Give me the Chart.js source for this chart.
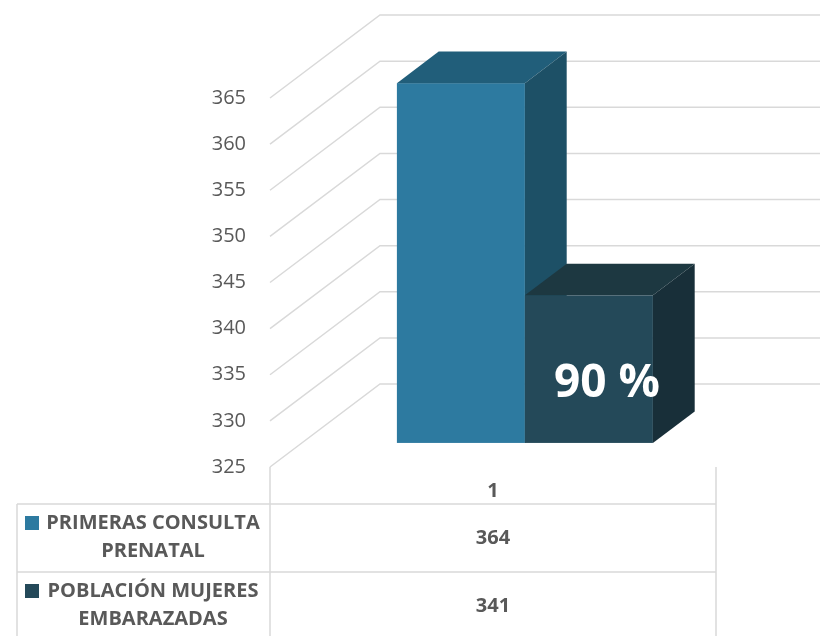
<!DOCTYPE html>
<html>
<head>
<meta charset="utf-8">
<script src="https://cdn.jsdelivr.net/npm/chart.js@4"></script>
<style>
  html, body { margin: 0; padding: 0; background: #fff; }
</style>
</head>
<body>
<canvas id="chart" width="820" height="636"></canvas>
<script>
// data
const categories = ['1'];
const seriesNames = [['PRIMERAS CONSULTA', 'PRENATAL'], ['POBLACIÓN MUJERES', 'EMBARAZADAS']];
const primerasConsulta = [364];
const poblacionMujeres = [341];
const yMin = 325, yMax = 365, yStep = 5;
const percentLabel = '90 %';

// look
const frontColors = ['#2d7aa0', '#244959'];
const topColors = ['#215e7a', '#1d3841'];
const sideColors = ['#1d5066', '#182f39'];
const GRID = '#d9d9d9';
const TEXT = '#595959';
const FONT = '"Open Sans", "DejaVu Sans", sans-serif';
const WALL = { dx: 110, dy: -83 };       // depth of the back wall
const BAR_FRONT = 0.29, BAR_BACK = 0.67; // bar depth as part of the wall depth
const TABLE = { left: 17, headH: 37, rowH: 68, textMid: 153 };

function poly(ctx, pts, color) {
    ctx.fillStyle = color;
    ctx.beginPath();
    ctx.moveTo(pts[0][0], pts[0][1]);
    pts.slice(1).forEach(p => ctx.lineTo(p[0], p[1]));
    ctx.closePath();
    ctx.fill();
}

function line(ctx, x1, y1, x2, y2) {
    ctx.beginPath();
    ctx.moveTo(x1, y1);
    ctx.lineTo(x2, y2);
    ctx.stroke();
}

const box3d = {
    id: 'box3d',
    beforeDatasetsDraw(chart) {
        const { ctx, chartArea: a } = chart;
        const y = chart.scales.y;
        ctx.save();

        // walls: diagonal on the side, flat on the back
        ctx.strokeStyle = GRID;
        ctx.lineWidth = 1.5;
        y.ticks.forEach(t => {
            const py = y.getPixelForValue(t.value);
            ctx.beginPath();
            ctx.moveTo(a.left, py);
            ctx.lineTo(a.left + WALL.dx, py + WALL.dy);
            ctx.lineTo(chart.width, py + WALL.dy);
            ctx.stroke();
        });

        // bars as boxes standing on the floor (axis minimum)
        const floor = y.getPixelForValue(yMin);
        const fx = WALL.dx * BAR_FRONT, fy = WALL.dy * BAR_FRONT;
        const bx = WALL.dx * BAR_BACK, by = WALL.dy * BAR_BACK;
        chart.data.datasets.forEach((ds, i) => {
            chart.getDatasetMeta(i).data.forEach(bar => {
                const l = bar.x - bar.width / 2, r = bar.x + bar.width / 2;
                const t = bar.y, b = Math.min(bar.base, floor);
                ctx.fillStyle = frontColors[i];
                ctx.fillRect(l + fx, t + fy, r - l, b - t);
                poly(ctx, [[l + fx, t + fy], [r + fx, t + fy], [r + bx, t + by], [l + bx, t + by]], topColors[i]);
                poly(ctx, [[r + fx, t + fy], [r + bx, t + by], [r + bx, b + by], [r + fx, b + fy]], sideColors[i]);
                if (i === 1) {
                    ctx.fillStyle = '#ffffff';
                    ctx.font = 'bold 46px ' + FONT;
                    ctx.textAlign = 'center';
                    ctx.textBaseline = 'middle';
                    ctx.fillText(percentLabel, bar.x + fx + 18, (t + b) / 2 + fy + 15);
                }
            });
        });
        ctx.restore();
        return false;
    },
    afterDraw(chart) {
        const { ctx, chartArea: a, height } = chart;
        const cx = chart.scales.x.getPixelForValue(0);
        ctx.save();
        ctx.strokeStyle = GRID;
        ctx.lineWidth = 1.5;
        const top = a.bottom + TABLE.headH;
        line(ctx, a.left, a.bottom, a.left, height);
        line(ctx, a.right, a.bottom, a.right, height);
        line(ctx, TABLE.left, top, TABLE.left, height);

        ctx.fillStyle = TEXT;
        ctx.font = 'bold 20px ' + FONT;
        ctx.textAlign = 'center';
        ctx.textBaseline = 'middle';
        ctx.fillText(categories[0], cx, a.bottom + 24);

        chart.data.datasets.forEach((ds, i) => {
            const rt = top + i * TABLE.rowH;
            line(ctx, TABLE.left, rt, a.right, rt);
            ctx.fillStyle = frontColors[i];
            ctx.fillRect(25, rt + 12, 14, 14);
            ctx.fillStyle = TEXT;
            seriesNames[i].forEach((s, k) => ctx.fillText(s, TABLE.textMid, rt + 19 + k * 28));
            ctx.fillText(String(ds.data[0]), cx, rt + 34);
        });
        ctx.restore();
    }
};

new Chart(document.getElementById('chart'), {
    type: 'bar',
    data: {
        labels: categories,
        datasets: [{
            label: seriesNames[0].join(' '),
            data: primerasConsulta,
            backgroundColor: frontColors[0]
        }, {
            label: seriesNames[1].join(' '),
            data: poblacionMujeres,
            backgroundColor: frontColors[1]
        }]
    },
    options: {
        responsive: false,
        animation: false,
        layout: { padding: { top: 98, right: 104, bottom: 169, left: 0 } },
        datasets: { bar: { categoryPercentage: 0.574, barPercentage: 1 } },
        plugins: { legend: { display: false }, tooltip: { enabled: false } },
        scales: {
            x: { display: false },
            y: {
                min: yMin,
                max: yMax,
                ticks: { stepSize: yStep, padding: 24, color: TEXT, font: { family: FONT, size: 20 } },
                grid: { display: false, drawTicks: false },
                border: { display: false },
                afterFit(s) { s.width = 270; }
            }
        }
    },
    plugins: [box3d]
});
</script>
</body>
</html>
